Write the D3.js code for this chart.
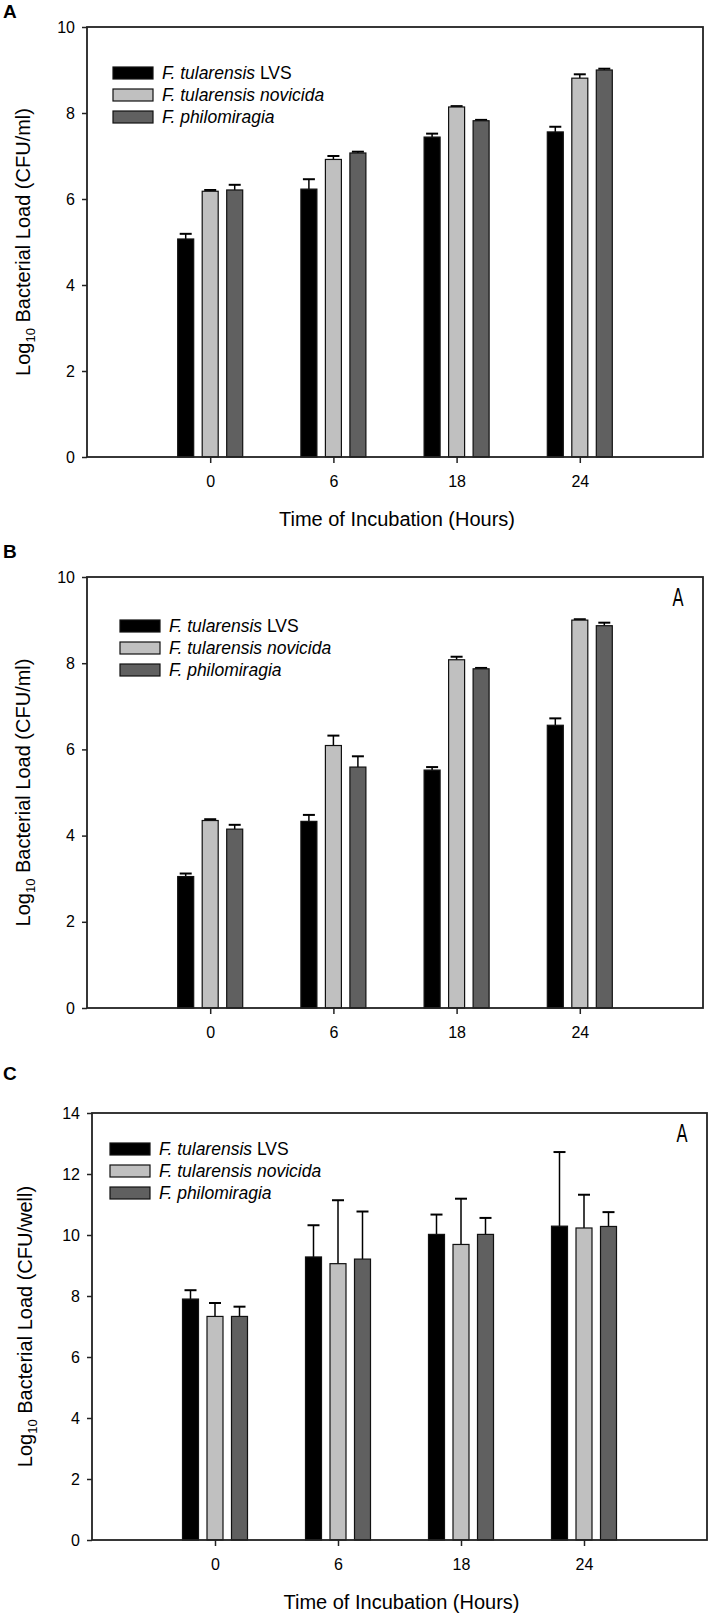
<!DOCTYPE html>
<html>
<head>
<meta charset="utf-8">
<script src="https://cdn.jsdelivr.net/npm/d3@7"></script>
<style>
  html, body { margin: 0; padding: 0; background: #fff; }
  svg { display: block; }
  text { font-family: "Liberation Sans", Arial, Helvetica, sans-serif; fill: #000; }
</style>
</head>
<body>
<svg id="chart" width="708" height="1620"></svg>
<script>
// ---- Data ----
const categories = ["0", "6", "18", "24"];
const seriesItalic = ["F. tularensis", "F. tularensis novicida", "F. philomiragia"];
const seriesUpright = [" LVS", "", ""];
const seriesColors = ["#000000", "#c0c0c0", "#606060"];

// Panel A
const aLVS = [5.07, 6.23, 7.44, 7.56];
const aLVSErr = [0.12, 0.23, 0.08, 0.12];
const aNovicida = [6.18, 6.92, 8.14, 8.81];
const aNovicidaErr = [0.03, 0.08, 0.02, 0.09];
const aPhilo = [6.21, 7.07, 7.82, 9.0];
const aPhiloErr = [0.12, 0.03, 0.02, 0.03];

// Panel B
const bLVS = [3.05, 4.33, 5.52, 6.56];
const bLVSErr = [0.07, 0.15, 0.07, 0.16];
const bNovicida = [4.35, 6.09, 8.08, 9.0];
const bNovicidaErr = [0.03, 0.23, 0.07, 0.02];
const bPhilo = [4.15, 5.59, 7.87, 8.87];
const bPhiloErr = [0.1, 0.25, 0.02, 0.07];

// Panel C
const cLVS = [7.9, 9.28, 10.02, 10.29];
const cLVSErr = [0.29, 1.04, 0.65, 2.43];
const cNovicida = [7.33, 9.06, 9.69, 10.23];
const cNovicidaErr = [0.44, 2.08, 1.5, 1.09];
const cPhilo = [7.33, 9.21, 10.02, 10.28];
const cPhiloErr = [0.32, 1.56, 0.54, 0.47];

const ticksAB = [0, 2, 4, 6, 8, 10];
const ticksC = [0, 2, 4, 6, 8, 10, 12, 14];

const svg = d3.select("#chart");

function drawPanel(cfg) {
  const g = svg.append("g");
  const x = d3.scaleLinear().domain([0, 5]).range([cfg.left, cfg.right]);
  const y = d3.scaleLinear().domain([0, cfg.yMax]).range([cfg.bottom, cfg.top]);
  const barW = 16, offset = 24.5, capW = 12;

  // panel letter
  g.append("text").attr("x", 3).attr("y", cfg.letterY)
    .attr("font-size", 19).attr("font-weight", "bold").text(cfg.letter);

  // bars
  cfg.series.forEach((s, si) => {
    const dx = (si - 1) * offset;
    const grp = g.append("g");
    grp.selectAll("line.err").data(s.values).join("line")
      .attr("x1", (d, i) => x(i + 1) + dx).attr("x2", (d, i) => x(i + 1) + dx)
      .attr("y1", d => y(d)).attr("y2", (d, i) => y(d + s.err[i]))
      .attr("stroke", "#000").attr("stroke-width", 1.5);
    grp.selectAll("line.cap").data(s.values).join("line")
      .attr("x1", (d, i) => x(i + 1) + dx - capW / 2).attr("x2", (d, i) => x(i + 1) + dx + capW / 2)
      .attr("y1", (d, i) => y(d + s.err[i])).attr("y2", (d, i) => y(d + s.err[i]))
      .attr("stroke", "#000").attr("stroke-width", 2);
    grp.selectAll("rect").data(s.values).join("rect")
      .attr("x", (d, i) => x(i + 1) + dx - barW / 2)
      .attr("width", barW)
      .attr("y", d => y(d))
      .attr("height", d => y(0) - y(d))
      .attr("fill", seriesColors[si])
      .attr("stroke", "#111").attr("stroke-width", 1.2);
  });

  // frame
  g.append("rect").attr("x", cfg.left).attr("y", cfg.top)
    .attr("width", cfg.right - cfg.left).attr("height", cfg.bottom - cfg.top)
    .attr("fill", "none").attr("stroke", "#222").attr("stroke-width", 1.8);

  // axes
  const xAxis = d3.axisBottom(x).tickValues([1, 2, 3, 4])
    .tickFormat(d => categories[d - 1]).tickSize(6).tickPadding(13);
  const xa = g.append("g").attr("transform", `translate(0,${cfg.bottom})`).call(xAxis);
  xa.select(".domain").remove();
  xa.selectAll("line").attr("stroke", "#222").attr("stroke-width", 1.5);
  xa.selectAll("text").attr("font-size", 16).attr("font-family", null);

  const yAxis = d3.axisLeft(y).tickValues(cfg.ticks).tickSize(5).tickPadding(7);
  const ya = g.append("g").attr("transform", `translate(${cfg.left},0)`).call(yAxis);
  ya.select(".domain").remove();
  ya.selectAll("line").attr("stroke", "#222").attr("stroke-width", 1.5);
  ya.selectAll("text").attr("font-size", 16).attr("font-family", null);

  // y title
  const cy = (cfg.top + cfg.bottom) / 2;
  const yt = g.append("text")
    .attr("transform", `translate(${cfg.yTitleX},${cy}) rotate(-90)`)
    .attr("text-anchor", "middle").attr("font-size", 20);
  yt.append("tspan").text("Log");
  yt.append("tspan").attr("font-size", 13).attr("dy", 5).text("10");
  yt.append("tspan").attr("dy", -5).text(" Bacterial Load " + cfg.unit);

  // x title
  if (cfg.xTitle) {
    g.append("text").attr("x", (cfg.left + cfg.right) / 2 + 2).attr("y", cfg.bottom + 69)
      .attr("text-anchor", "middle").attr("font-size", 20)
      .text("Time of Incubation (Hours)");
  }

  // corner annotation
  if (cfg.corner) {
    const cx = cfg.right - 25;
    g.append("text").attr("x", cx).attr("y", cfg.top + 29)
      .attr("text-anchor", "middle").attr("font-size", 25)
      .attr("transform", `translate(${cx},0) scale(0.66,1) translate(${-cx},0)`)
      .text(cfg.corner);
  }

  // legend
  seriesItalic.forEach((name, i) => {
    const cyL = cfg.legendY + i * 22;
    g.append("rect").attr("x", cfg.legendX).attr("y", cyL - 6)
      .attr("width", 40).attr("height", 12)
      .attr("fill", seriesColors[i]).attr("stroke", "#111").attr("stroke-width", 1.2);
    const t = g.append("text").attr("x", cfg.legendX + 49).attr("y", cyL + 6)
      .attr("font-size", 17.5);
    t.append("tspan").attr("font-style", "italic").text(name);
    if (seriesUpright[i]) t.append("tspan").text(seriesUpright[i]);
  });
}

drawPanel({
  letter: "A", letterY: 18,
  left: 87, right: 703, top: 27, bottom: 457, yMax: 10, ticks: ticksAB,
  unit: "(CFU/ml)", yTitleX: 30, xTitle: true, corner: null,
  legendX: 113, legendY: 73,
  series: [
    { values: aLVS, err: aLVSErr },
    { values: aNovicida, err: aNovicidaErr },
    { values: aPhilo, err: aPhiloErr }
  ]
});

drawPanel({
  letter: "B", letterY: 558,
  left: 87, right: 703, top: 577, bottom: 1008, yMax: 10, ticks: ticksAB,
  unit: "(CFU/ml)", yTitleX: 30, xTitle: false, corner: "A",
  legendX: 120, legendY: 626,
  series: [
    { values: bLVS, err: bLVSErr },
    { values: bNovicida, err: bNovicidaErr },
    { values: bPhilo, err: bPhiloErr }
  ]
});

drawPanel({
  letter: "C", letterY: 1080,
  left: 92, right: 707, top: 1113, bottom: 1540, yMax: 14, ticks: ticksC,
  unit: "(CFU/well)", yTitleX: 32, xTitle: true, corner: "A",
  legendX: 110, legendY: 1149,
  series: [
    { values: cLVS, err: cLVSErr },
    { values: cNovicida, err: cNovicidaErr },
    { values: cPhilo, err: cPhiloErr }
  ]
});
</script>
</body>
</html>
